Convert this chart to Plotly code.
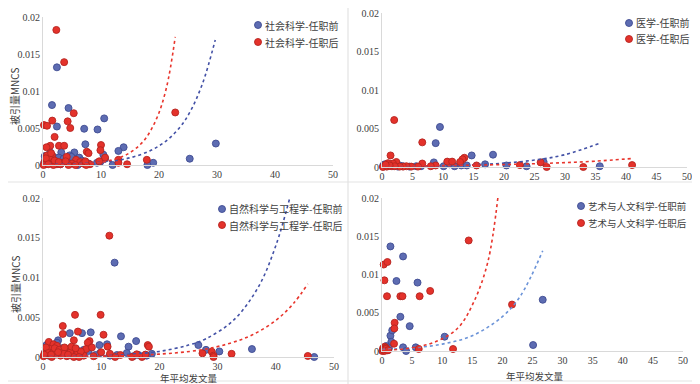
import plotly.graph_objects as go

# ---------------- data ----------------
soc_pre = [(2.4, 0.0132), (1.55, 0.0081), (4.4, 0.0077), (2.4, 0.0052), (10.55, 0.0063), (7.1, 0.0049),
           (9.4, 0.0048), (7.3, 0.0028), (13.9, 0.0024), (13.0, 0.0019), (10.4, 0.0014), (5.4, 0.0017),
           (3.15, 0.0017), (4.6, 0.0013), (4.9, 0.0011), (25.3, 0.00085), (29.8, 0.0029), (19.0, 0.0003),
           (18.0, 0.0), (12.0, 0.0), (6.25, 0.001), (1.25, 0.0017), (1.0, 0.0013), (0.7, 0.0006), (0.4, 0.0008),
           (1.8, 0.0011), (2.7, 0.001), (3.55, 0.00085), (4.1, 0.0004), (5.6, 0.0002), (0.2, 0.0003),
           (1.95, 0.00045), (2.8, 0.0002), (6.7, 0.0006), (9.3, 0.0003), (6.0, 0.0), (7.85, 0.0002),
           (9.9, 0.00045), (10.7, 0.00085), (0.5, 0.0001), (1.5, 0.0002), (2.2, 0.0005), (3.0, 0.0001),
           (0.9, 0.0008), (0.3, 0.0012)]
soc_post = [(2.3, 0.01825), (3.65, 0.0139), (1.6, 0.006), (5.3, 0.007), (4.25, 0.0059), (4.7, 0.005),
            (0.17, 0.0054), (0.7, 0.0053), (2.0, 0.0038), (22.8, 0.0071), (2.75, 0.0026), (3.65, 0.0026),
            (1.25, 0.0026), (0.6, 0.0024), (10.0, 0.0027), (9.9, 0.002), (7.55, 0.0018), (7.85, 0.0016),
            (10.7, 0.001), (13.0, 0.0007), (13.0, 0.0003), (14.5, 0.0001), (17.9, 0.0007), (9.7, 0.0005),
            (5.7, 0.0007), (6.4, 0.0004), (4.1, 0.0011), (1.55, 0.0013), (0.7, 0.0013), (1.25, 0.0008),
            (0.3, 0.00045), (1.0, 0.0002), (1.7, 0.0003), (2.4, 0.0001), (3.3, 0.0003), (5.0, 0.0002),
            (6.9, 0.0002), (8.1, 0.0001), (0.1, 0.0), (1.8, 0.0), (3.0, 0.0001), (4.4, 0.0), (5.6, 0.0),
            (7.45, 0.0), (0.5, 0.0009), (2.0, 0.0006), (2.7, 0.0004), (3.9, 0.0005), (1.4, 0.0016),
            (0.9, 0.0001), (7.3, 0.0005)]
soc_pre_trend = [(0, 0.00005), (5, 0.00014), (10, 0.00037), (14.4, 0.00086), (18.4, 0.0019), (21.3, 0.0033),
                 (23.6, 0.0051), (25.3, 0.0071), (27.5, 0.011), (29.7, 0.0169)]
soc_post_trend = [(0, 0.00002), (5, 0.00008), (8, 0.0002), (11, 0.0005), (14.4, 0.0014), (17.3, 0.0032),
                  (19.6, 0.0063), (21.3, 0.0105), (22.8, 0.0173)]

med_pre = [(9.5, 0.0052), (8.8, 0.0031), (18.2, 0.0016), (14.7, 0.0015), (8.5, 0.0006), (16.9, 0.00035),
           (26.5, 0.00065), (35.7, 0.0001), (23.7, 0.0001), (20.4, 0.0002), (11.1, 0.00035), (10.1, 0.0001),
           (11.9, 0.0001), (13.0, 0.0002), (13.9, 0.0002), (6.4, 0.0001), (5.6, 0.0001), (2.9, 0.0002),
           (2.4, 0.00035), (1.3, 0.0003), (0.45, 0.00035), (3.45, 0.0001), (0.7, 0.0001), (1.8, 0.0001),
           (2.6, 0.00005), (4.5, 0.00005), (0.2, 0.0002), (1.0, 0.0004)]
med_post = [(2.0, 0.0061), (6.6, 0.0032), (1.4, 0.0015), (10.7, 0.0007), (11.5, 0.0007), (13.5, 0.0012),
            (13.2, 0.001), (12.8, 0.00065), (6.6, 0.00045), (2.35, 0.00065), (1.8, 0.00045), (1.0, 0.0005),
            (8.8, 0.0002), (8.0, 0.0001), (15.5, 0.0002), (22.6, 0.00025), (26.0, 0.0006), (27.0, 0.0),
            (33.0, 0.0), (41.0, 0.00025), (4.8, 0.00005), (4.0, 0.0001), (3.45, 0.00005), (0.45, 0.0001),
            (0.15, 0.0), (0.8, 0.00005), (1.5, 0.0001), (2.9, 0.00005), (5.9, 0.00005), (2.1, 0.0001),
            (1.25, 0.0002), (0.6, 0.0003)]
med_pre_trend = [(0, 0.00005), (10, 0.00016), (15, 0.0003), (20, 0.0005), (25, 0.0009), (30, 0.0016),
                 (35.7, 0.0031)]
med_post_trend = [(0, 0.0001), (10, 0.00018), (20, 0.00032), (25, 0.00043), (30, 0.00057), (35, 0.00076),
                  (41, 0.0011)]

nat_pre = [(12.3, 0.01187), (13.4, 0.0026), (6.7, 0.003), (4.6, 0.003), (2.6, 0.0021), (8.2, 0.0031),
           (16.0, 0.002), (14.7, 0.0013), (9.7, 0.0015), (11.0, 0.0016), (26.7, 0.0015), (28.0, 0.0009),
           (30.3, 0.0007), (35.9, 0.001), (46.6, 0.0), (18.7, 0.0004), (0.6, 0.0015), (1.25, 0.0012),
           (2.1, 0.001), (3.25, 0.0011), (5.7, 0.001), (7.0, 0.0009), (7.8, 0.00075), (9.8, 0.0005),
           (12.7, 0.00025), (14.4, 0.0005), (16.4, 0.00025), (0.7, 0.0008), (4.1, 0.0006), (5.0, 0.00017),
           (6.1, 0.0004), (9.0, 0.00025), (11.5, 0.00017), (17.8, 0.00017), (1.8, 0.0004), (3.0, 0.00025),
           (1.0, 0.00017), (2.4, 0.0018), (0.3, 0.0005), (4.9, 0.0009), (15.5, 0.0001)]
nat_post = [(11.4, 0.01526), (5.5, 0.0053), (9.9, 0.0053), (3.4, 0.0039), (3.4, 0.0029), (6.0, 0.0032),
            (10.4, 0.0028), (5.3, 0.0021), (8.0, 0.002), (7.7, 0.0018), (1.0, 0.0019), (1.8, 0.0016),
            (4.4, 0.001), (11.1, 0.0013), (18.0, 0.0015), (18.2, 0.0013), (10.0, 0.0006), (11.5, 0.0004),
            (13.3, 0.00025), (15.3, 0.0), (17.0, 0.0), (16.1, 0.00034), (27.4, 0.00046), (29.0, 0.00067),
            (29.3, 0.00017), (29.3, 0.0), (32.4, 0.0004), (45.5, 0.00013), (7.4, 0.001), (8.4, 0.0012),
            (2.4, 0.0014), (1.25, 0.001), (0.4, 0.00067), (0.7, 0.00025), (1.8, 0.00067), (3.25, 0.0008),
            (4.7, 0.0006), (5.9, 0.0004), (3.0, 0.00017), (4.1, 0.0001), (7.0, 0.00017), (0.1, 0.0001),
            (1.5, 0.0), (5.3, 0.0), (8.7, 0.0001), (12.4, 0.0), (0.5, 0.0012), (2.0, 0.0011), (2.8, 0.0009),
            (3.7, 0.0012), (4.9, 0.0013), (2.2, 0.0003), (3.6, 0.0004), (6.5, 0.0007), (0.9, 0.0005),
            (1.4, 0.0003), (2.6, 0.0006), (4.3, 0.0003), (5.6, 0.0011), (0.2, 0.0003), (6.2, 0.0), (17.6, 0.0003)]
nat_pre_trend = [(0, 0.00004), (10, 0.00015), (15, 0.00035), (20, 0.0007), (25, 0.0015), (28, 0.0023),
                 (32.7, 0.0046), (37, 0.0088), (40, 0.014), (42.4, 0.02)]
nat_post_trend = [(0, 0.00003), (10, 0.0001), (15, 0.0002), (20, 0.00036), (27, 0.00088), (32, 0.0017),
                  (36, 0.0028), (40, 0.0046), (43, 0.0067), (45.5, 0.0092)]

art_pre = [(1.4, 0.01367), (3.5, 0.01236), (2.4, 0.00915), (5.9, 0.00894), (3.05, 0.00447), (4.6, 0.00325),
           (1.4, 0.002), (1.7, 0.0027), (1.55, 0.0012), (10.4, 0.00187), (26.7, 0.0067), (25.1, 0.00078),
           (3.5, 0.00048), (5.6, 0.00048), (4.0, 0.0), (0.7, 0.00065), (1.15, 0.00035), (0.9, 0.0001)]
art_post = [(14.4, 0.01445), (0.28, 0.0113), (0.9, 0.01163), (0.4, 0.00924), (0.83, 0.00716), (3.05, 0.00716),
            (3.4, 0.00716), (6.25, 0.00716), (8.0, 0.00785), (21.6, 0.00607), (2.1, 0.00369), (2.05, 0.00295),
            (2.0, 0.00095), (6.1, 0.00026), (11.8, 0.00026), (0.17, 0.00035), (0.05, 0.0), (0.45, 0.00056),
            (0.83, 0.00013), (0.4, 0.0), (0.6, 0.00043), (0.25, 0.0002), (0.7, 0.0003), (1.0, 0.0001)]
art_pre_trend = [(0, 0.0002), (5, 0.0004), (10, 0.0009), (15, 0.002), (20, 0.0045), (23, 0.0072),
                 (26.7, 0.0131)]
art_post_trend = [(0, 0.00008), (4.8, 0.0004), (8.7, 0.00115), (12.6, 0.003), (15.3, 0.0065), (17.6, 0.0117),
                  (19.3, 0.0204)]

y_ticks = [0, 0.005, 0.01, 0.015, 0.02]
y_tick_text = ["0", "0.005", "0.01", "0.015", "0.02"]

# ---------------- layout helpers ----------------
# The page body has an 8px margin, so the figure is drawn from (8, 8) of the window.
OFF = 8
W, H = 700 - OFF, 384 - OFF
BLUE, BLUE_LINE = "#5d6cb2", "#3f4c92"
RED, RED_LINE = "#e4322b", "#b52520"
CJK = "Noto Sans CJK SC"
SERIF = "Liberation Serif"
TXT = "#404040"

def fx(p):
    return (p - OFF) / W

def fy(p):
    return 1 - (p - OFF) / H

panels = [
    dict(name_pre="社会科学-任职前", name_post="社会科学-任职后", pre=soc_pre, post=soc_post,
         tpre=soc_pre_trend, tpost=soc_post_trend, xd=(43, 333), yd=(17, 165), step=10,
         leg=(258, 25, 42), legsize=10, pre_trend_color="#4351a6"),
    dict(name_pre="医学-任职前", name_post="医学-任职后", pre=med_pre, post=med_post,
         tpre=med_pre_trend, tpost=med_post_trend, xd=(382, 687), yd=(13, 167), step=5,
         leg=(629, 23, 39), legsize=10, pre_trend_color="#4351a6"),
    dict(name_pre="自然科学与工程学-任职前", name_post="自然科学与工程学-任职后", pre=nat_pre, post=nat_post,
         tpre=nat_pre_trend, tpost=nat_post_trend, xd=(43, 334), yd=(198, 357), step=10,
         leg=(222, 209, 225), legsize=10, pre_trend_color="#4351a6"),
    dict(name_pre="艺术与人文科学-任职前", name_post="艺术与人文科学-任职后", pre=art_pre, post=art_post,
         tpre=art_pre_trend, tpost=art_post_trend, xd=(382, 683), yd=(198, 351), step=5,
         leg=(581, 206, 223), legsize=9.5, pre_trend_color="#6b93d8"),
]

fig = go.Figure()
layout = dict(width=W, height=H, margin=dict(l=0, r=0, t=0, b=0, autoexpand=False),
              paper_bgcolor="white", plot_bgcolor="white", showlegend=False)

for i, p in enumerate(panels):
    k = "" if i == 0 else str(i + 1)
    xa, ya = "x" + k, "y" + k
    for pts, name, fill, line in ((p["pre"], p["name_pre"], BLUE, BLUE_LINE),
                                  (p["post"], p["name_post"], RED, RED_LINE)):
        fig.add_trace(go.Scatter(x=[a for a, b in pts], y=[b for a, b in pts], mode="markers", name=name,
                                 xaxis=xa, yaxis=ya, cliponaxis=False,
                                 marker=dict(size=7, color=fill, line=dict(color=line, width=0.9))))
    for pts, color, nm in ((p["tpre"], p["pre_trend_color"], p["name_pre"]), (p["tpost"], "#e8352c", p["name_post"])):
        fig.add_trace(go.Scatter(x=[a for a, b in pts], y=[b for a, b in pts], mode="lines",
                                 name="指数 (" + nm + ")", xaxis=xa, yaxis=ya, cliponaxis=False,
                                 line=dict(color=color, width=1.6, dash="dot", shape="spline", smoothing=1.0)))
    axis_common = dict(showgrid=False, zeroline=False, showline=True, linecolor="#d9d9d9", linewidth=1,
                       ticks="", tickfont=dict(family=SERIF, size=10, color=TXT), fixedrange=True,
                       ticklabeloverflow="allow")
    layout["xaxis" + k] = dict(axis_common, domain=[fx(p["xd"][0]), fx(p["xd"][1])], range=[0, 50],
                               tickvals=list(range(0, 51, p["step"])), anchor=ya)
    layout["yaxis" + k] = dict(axis_common, domain=[fy(p["yd"][1]), fy(p["yd"][0])], range=[0, 0.02],
                               tickvals=y_ticks, ticktext=y_tick_text, anchor=xa)

fig.update_layout(**layout)

# legends (marker swatch + label) for each panel
for p in panels:
    mx, y1, y2 = p["leg"]
    for yy, name, fill, line in ((y1, p["name_pre"], BLUE, BLUE_LINE), (y2, p["name_post"], RED, RED_LINE)):
        fig.add_shape(type="circle", xref="paper", yref="paper",
                      x0=fx(mx - 3.5), x1=fx(mx + 3.5), y0=fy(yy + 3.5), y1=fy(yy - 3.5),
                      fillcolor=fill, line=dict(color=line, width=0.9))
        fig.add_annotation(x=fx(mx + 5), y=fy(yy), xref="paper", yref="paper", text=name,
                           xanchor="left", yanchor="middle", showarrow=False,
                           font=dict(family=CJK, size=p["legsize"], color=TXT))

# axis titles
for (x, y) in ((15, 97), (15, 285)):
    fig.add_annotation(x=fx(x), y=fy(y), xref="paper", yref="paper", text="被引量MNCS", textangle=-90,
                       xanchor="center", yanchor="middle", borderpad=0,
                       showarrow=False, font=dict(family=CJK, size=10, color=TXT))
for (x, y) in ((189, 377.5), (535, 376)):
    fig.add_annotation(x=fx(x), y=fy(y), xref="paper", yref="paper", text="年平均发文量",
                       xanchor="center", yanchor="middle", borderpad=0,
                       showarrow=False, font=dict(family=CJK, size=9.5, color=TXT))

# panel separators
for (x0, y0, x1, y1) in ((OFF, 182, 700, 182), (348, OFF, 348, 384), (OFF, 381, 700, 381)):
    fig.add_shape(type="line", xref="paper", yref="paper", x0=fx(x0), y0=fy(y0), x1=fx(x1), y1=fy(y1),
                  line=dict(color="#e3e3e3", width=1.2))

fig.write_html("out.html")
